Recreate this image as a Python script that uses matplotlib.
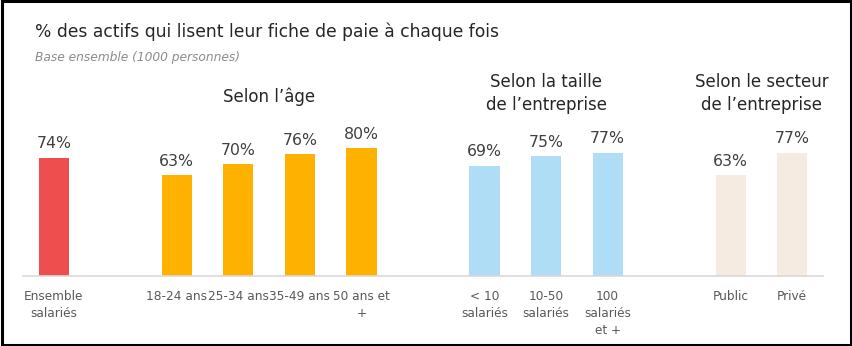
import matplotlib
matplotlib.use("Agg")
import matplotlib.pyplot as plt
from matplotlib.patches import Rectangle

# Data
categories = ["Ensemble\nsalariés", "18-24 ans", "25-34 ans", "35-49 ans", "50 ans et\n+",
              "< 10\nsalariés", "10-50\nsalariés", "100\nsalariés\net +", "Public", "Privé"]
values = [74, 63, 70, 76, 80, 69, 75, 77, 63, 77]
slots = [0, 2, 3, 4, 5, 7, 8, 9, 11, 12]
group_of = ["total", "age", "age", "age", "age", "size", "size", "size", "sector", "sector"]
group_titles = {"age": "Selon l’âge",
                "size": "Selon la taille\nde l’entreprise",
                "sector": "Selon le secteur\nde l’entreprise"}
group_colors = {"total": "#EF4E4F", "age": "#FFB100", "size": "#AEDDF5", "sector": "#F5EBE1"}

title = "% des actifs qui lisent leur fiche de paie à chaque fois"
subtitle = "Base ensemble (1000 personnes)"

plt.rcParams["font.family"] = ["DejaVu Sans"]

W, H = 853, 346
fig = plt.figure(figsize=(W / 100, H / 100), dpi=100)
fig.patch.set_facecolor("white")

# axes placed in pixel terms: baseline at y=276, 1.6 px per percent
left_px, right_px, base_px = 23, 823, 276
ax = fig.add_axes([left_px / W, (H - base_px) / H, (right_px - left_px) / W, 160 / H])
ax.set_xlim(-0.5, 12.5)
ax.set_ylim(0, 100)

colors = [group_colors[g] for g in group_of]
bars = ax.bar(slots, values, width=0.49, color=colors, zorder=2)

for b, v in zip(bars, values):
    ax.text(b.get_x() + b.get_width() / 2, v + 4.0, f"{v}%", ha="center", va="bottom",
            fontsize=11.3, color="#404040")

ax.set_xticks(slots)
ax.set_xticklabels(categories, fontsize=8.7, color="#595959", linespacing=1.4)
ax.tick_params(axis="x", length=0, pad=10)
ax.set_yticks([])
for s in ["top", "right", "left"]:
    ax.spines[s].set_visible(False)
ax.spines["bottom"].set_color("#D9D9D9")
ax.spines["bottom"].set_linewidth(1.2)

# group headers, centred over each group's bars
for g, t in group_titles.items():
    xs = [s for s, gg in zip(slots, group_of) if gg == g]
    xc = sum(xs) / len(xs)
    y = 114 if "\n" in t else 112
    ax.text(xc, y, t, ha="center", va="center", fontsize=12, color="#262626",
            linespacing=1.4, clip_on=False)

fig.text(35 / W, 1 - 32 / H, title, ha="left", va="center", fontsize=12.3, color="#262626")
fig.text(35 / W, 1 - 57 / H, subtitle, ha="left", va="center", fontsize=8.8,
         color="#8C8C8C", style="italic")

# outer frame
fig.add_artist(Rectangle((0.002, 0.003), 0.996, 0.994, transform=fig.transFigure,
                         fill=False, edgecolor="black", linewidth=2.2))

fig.savefig("out.png", dpi=100)
